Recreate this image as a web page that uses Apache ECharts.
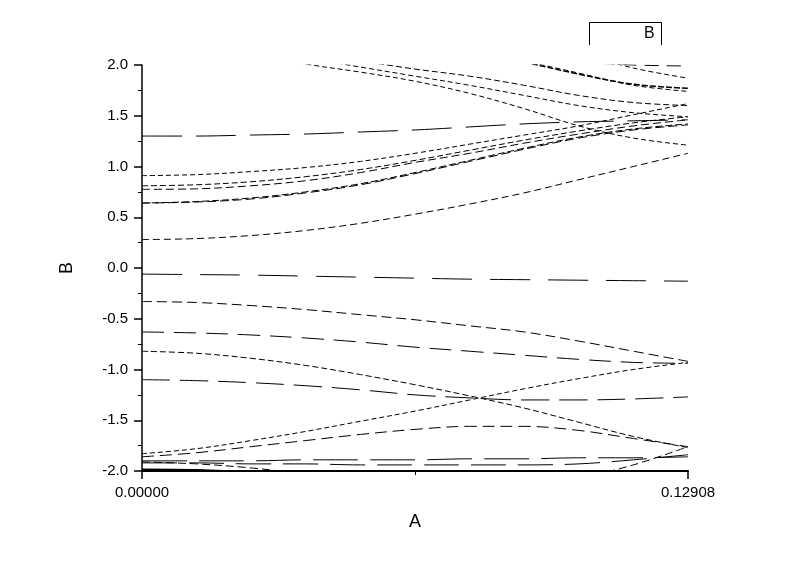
<!DOCTYPE html>
<html>
<head>
<meta charset="utf-8">
<script src="https://cdn.jsdelivr.net/npm/echarts@6/dist/echarts.min.js"></script>
<style>
  html, body { margin: 0; padding: 0; background: #fff; }
  #main { width: 800px; height: 565px; }
</style>
</head>
<body>
<div id="main"></div>
<script>
// k points along the path (A axis)
var kPath = [0, 0.01291, 0.02582, 0.03872, 0.05163, 0.06454, 0.07745, 0.09036, 0.10326, 0.11617, 0.12908];

// bands (B axis), one value per k point
var bandL1 = [-0.06, -0.065, -0.07, -0.08, -0.09, -0.10, -0.11, -0.115, -0.12, -0.125, -0.13];
var bandL2 = [-0.33, -0.34, -0.37, -0.41, -0.46, -0.51, -0.57, -0.63, -0.72, -0.82, -0.92];
var bandL3 = [-0.63, -0.64, -0.66, -0.69, -0.73, -0.78, -0.82, -0.86, -0.90, -0.93, -0.94];
var bandL4 = [-0.82, -0.84, -0.89, -0.96, -1.05, -1.15, -1.26, -1.38, -1.52, -1.66, -1.77];
var bandL5 = [-1.83, -1.78, -1.70, -1.61, -1.51, -1.41, -1.30, -1.19, -1.09, -1.00, -0.93];
var bandL6 = [-1.10, -1.11, -1.13, -1.16, -1.20, -1.25, -1.28, -1.30, -1.30, -1.29, -1.27];
var bandL7 = [-1.86, -1.82, -1.76, -1.70, -1.64, -1.59, -1.56, -1.56, -1.60, -1.68, -1.76];
var bandB1 = [-1.90, -1.90, -1.90, -1.89, -1.89, -1.89, -1.88, -1.88, -1.87, -1.87, -1.86];
var bandB2 = [-1.92, -1.92, -1.93, -1.93, -1.94, -1.94, -1.94, -1.94, -1.93, -1.89, -1.84];
var bandB3 = [-1.91, -1.93, -1.97, -2.03, -2.10, -2.15, -2.17, -2.15, -2.07, -1.94, -1.76];
var bandB4 = [-1.985, -1.99, -2.02, -2.08, -2.14, null, null, null, null, null, null];

var bandE  = [0.28, 0.29, 0.32, 0.37, 0.44, 0.53, 0.63, 0.74, 0.87, 1.00, 1.13];
var bandA1 = [0.64, 0.65, 0.68, 0.74, 0.82, 0.93, 1.05, 1.17, 1.28, 1.36, 1.41];
var bandA2 = [0.64, 0.655, 0.69, 0.75, 0.83, 0.94, 1.06, 1.18, 1.29, 1.37, 1.42];
var bandM1 = [0.775, 0.78, 0.81, 0.86, 0.94, 1.04, 1.13, 1.23, 1.32, 1.40, 1.46];
var bandM2 = [0.81, 0.82, 0.85, 0.90, 0.97, 1.06, 1.16, 1.26, 1.35, 1.43, 1.49];
var bandC  = [0.91, 0.92, 0.95, 0.99, 1.05, 1.13, 1.22, 1.31, 1.40, 1.51, 1.62];
var bandD  = [1.30, 1.30, 1.31, 1.32, 1.34, 1.36, 1.39, 1.42, 1.44, 1.45, 1.46];
var bandT1 = [null, null, 2.12, 2.01, 1.93, 1.84, 1.72, 1.57, 1.40, 1.28, 1.21];
var bandT2 = [null, null, null, 2.07, 1.98, 1.89, 1.80, 1.70, 1.60, 1.53, 1.49];
var bandT3 = [null, null, null, null, 2.04, 1.96, 1.89, 1.80, 1.70, 1.63, 1.60];
var bandT4 = [null, null, null, null, null, null, null, 2.03, 1.91, 1.81, 1.77];
var bandT5 = [null, null, null, null, null, null, null, 2.04, 1.92, 1.80, 1.74];
var bandT6 = [null, null, null, null, null, null, null, null, 2.12, 1.97, 1.87];
var bandT7 = [null, null, null, null, null, null, null, null, 2.03, 2.00, 1.99];

var yTicks = [-2.0, 2.0, 0.5];

// dash look per band (Origin-like long / short dashes)
var bands = [
  { d: bandL1, dash: [40, 18] }, { d: bandL2, dash: [10, 5] }, { d: bandL3, dash: [22, 10] },
  { d: bandL4, dash: [6, 3] },   { d: bandL5, dash: [5, 3] },  { d: bandL6, dash: [28, 10] },
  { d: bandL7, dash: [12, 6] },  { d: bandB1, dash: [45, 12] }, { d: bandB2, dash: [35, 12] },
  { d: bandB3, dash: [8, 4] },   { d: bandB4, dash: 'solid', w: 2 },
  { d: bandE, dash: [7, 4] },    { d: bandA1, dash: [9, 4] },  { d: bandA2, dash: [7, 3] },
  { d: bandM1, dash: [8, 4] },   { d: bandM2, dash: [6, 3] },  { d: bandC, dash: [5, 3] },
  { d: bandD, dash: [40, 14] },  { d: bandT1, dash: [5, 3] },  { d: bandT2, dash: [5, 3] },
  { d: bandT3, dash: [6, 3] },   { d: bandT4, dash: [6, 2], w: 1.5 }, { d: bandT5, dash: [5, 3] },
  { d: bandT6, dash: [5, 3] },   { d: bandT7, dash: [14, 8] }
];

var series = bands.map(function (b) {
  return {
    type: 'line',
    name: 'B',
    data: kPath.map(function (k, i) { return [k, b.d[i]]; }),
    smooth: 0.35,
    showSymbol: false,
    symbol: 'none',
    clip: true,
    connectNulls: false,
    lineStyle: { color: '#000', width: b.w || 1, type: b.dash }
  };
});

var font = 'Liberation Sans';
var myChart = echarts.init(document.getElementById('main'));
myChart.setOption({
  animation: false,
  backgroundColor: '#fff',
  grid: { left: 142, right: 112, top: 65, bottom: 94 },
  xAxis: {
    type: 'value',
    min: kPath[0],
    max: kPath[kPath.length - 1],
    interval: kPath[kPath.length - 1],
    name: 'A',
    nameLocation: 'middle',
    nameGap: 42,
    nameTextStyle: { color: '#000', fontFamily: font, fontSize: 18 },
    axisLine: { onZero: false, lineStyle: { color: '#000', width: 2 } },
    axisTick: { inside: false, length: 8, lineStyle: { color: '#000', width: 1.5 } },
    minorTick: { show: true, splitNumber: 2, length: 4, lineStyle: { color: '#000' } },
    splitLine: { show: false },
    axisLabel: {
      color: '#000', fontFamily: font, fontSize: 15, margin: 14,
      formatter: function (v) { return v.toFixed(5); }
    }
  },
  yAxis: {
    type: 'value',
    min: yTicks[0],
    max: yTicks[1],
    interval: yTicks[2],
    name: 'B',
    nameLocation: 'middle',
    nameGap: 66,
    nameRotate: 90,
    nameTextStyle: { color: '#000', fontFamily: font, fontSize: 18 },
    axisLine: { onZero: false, lineStyle: { color: '#000', width: 1.5 } },
    axisTick: { inside: false, length: 8, lineStyle: { color: '#000', width: 1.5 } },
    minorTick: { show: true, splitNumber: 2, length: 4, lineStyle: { color: '#000' } },
    splitLine: { show: false },
    axisLabel: {
      color: '#000', fontFamily: font, fontSize: 15, margin: 14,
      formatter: function (v) { return v.toFixed(1); }
    }
  },
  graphic: [
    {
      type: 'polyline',
      shape: { points: [[589.5, 45], [589.5, 22.5], [661.5, 22.5], [661.5, 45]] },
      style: { stroke: '#000', lineWidth: 1, fill: null }
    },
    {
      type: 'text',
      left: 644, top: 26,
      style: { text: 'B', fill: '#000', font: '16px "Liberation Sans"' }
    }
  ],
  series: series
});
</script>
</body>
</html>
